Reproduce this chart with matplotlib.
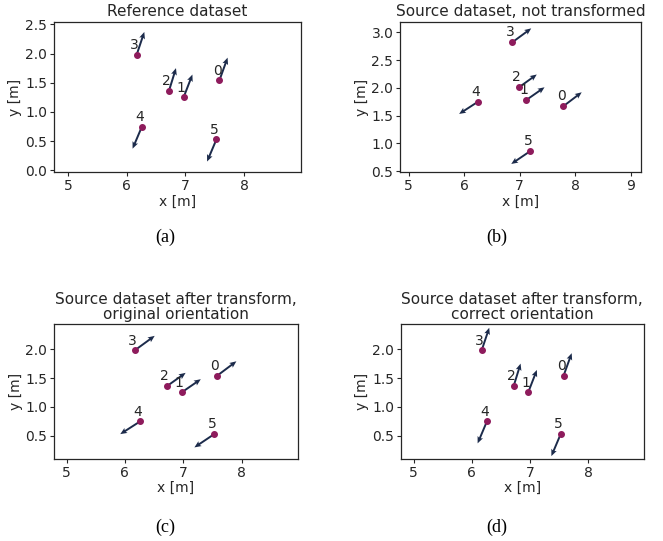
import matplotlib
matplotlib.use("Agg")
import matplotlib.pyplot as plt

# point positions (reference and transformed source share the same positions)
ref_x = [7.58, 6.97, 6.72, 6.17, 6.26, 7.53]
ref_y = [1.54, 1.25, 1.36, 1.98, 0.75, 0.53]

src_x = [7.79, 7.12, 6.99, 6.87, 6.25, 7.19]
src_y = [1.67, 1.78, 2.01, 2.82, 1.75, 0.86]

# orientation vectors
ref_u = [0.14, 0.15, 0.12, 0.13, -0.16, -0.16]
ref_v = [0.39, 0.39, 0.39, 0.39, -0.38, -0.38]

src_u = [0.33, 0.33, 0.32, 0.34, -0.34, -0.34]
src_v = [0.25, 0.23, 0.23, 0.25, -0.22, -0.23]

labels = ['0', '1', '2', '3', '4', '5']

titles = ['Reference dataset',
          'Source dataset, not transformed',
          'Source dataset after transform,\noriginal orientation',
          'Source dataset after transform,\ncorrect orientation']
captions = ['(a)', '(b)', '(c)', '(d)']

TXT = '#262626'
PT = '#8e1b5c'
ARR = '#1c2b4b'

plt.rcParams['font.family'] = 'DejaVu Sans'
plt.rcParams['text.color'] = TXT
plt.rcParams['axes.labelcolor'] = TXT
plt.rcParams['xtick.color'] = TXT
plt.rcParams['ytick.color'] = TXT


def panel(ax, xs, ys, us, vs, title, xlim, ylim, xticks, yticks):
	ax.quiver(xs, ys, us, vs, angles='xy', scale_units='xy', scale=1,
		color=ARR, width=0.008, headwidth=3, headlength=3.5, headaxislength=3,
		zorder=2)
	ax.plot(xs, ys, 'o', color=PT, markersize=4, zorder=3)
	for x, y, lab in zip(xs, ys, labels):
		ax.annotate(lab, (x, y), xytext=(1.5, 2), textcoords='offset points',
			ha='right', va='bottom', fontsize=10, color=TXT)
	ax.set_xlim(*xlim)
	ax.set_ylim(*ylim)
	ax.set_xticks(xticks)
	ax.set_yticks(yticks)
	ax.set_yticklabels(['%.1f' % t for t in yticks])
	ax.tick_params(labelsize=10, length=3, width=0.8, pad=2)
	ax.set_xlabel('x [m]', fontsize=10, labelpad=1)
	ax.set_ylabel('y [m]', fontsize=10, labelpad=2)
	ax.set_title(title, fontsize=11, pad=4, linespacing=0.95)
	for s in ax.spines.values():
		s.set_color(TXT)
		s.set_linewidth(0.9)


fig = plt.figure(figsize=(6.63, 5.41), dpi=100)

ax_a = fig.add_axes([0.0814, 0.682, 0.3725, 0.2773])
ax_b = fig.add_axes([0.6038, 0.6815, 0.3631, 0.2784])
ax_c = fig.add_axes([0.0819, 0.1516, 0.3671, 0.2490])
ax_d = fig.add_axes([0.6048, 0.1516, 0.3661, 0.2490])

panel(ax_a, ref_x, ref_y, ref_u, ref_v, titles[0], (4.76, 8.97), (-0.03, 2.54),
	[5, 6, 7, 8], [0.0, 0.5, 1.0, 1.5, 2.0, 2.5])
panel(ax_b, src_x, src_y, src_u, src_v, titles[1], (4.85, 9.19), (0.48, 3.19),
	[5, 6, 7, 8, 9], [0.5, 1.0, 1.5, 2.0, 2.5, 3.0])
panel(ax_c, ref_x, ref_y, src_u, src_v, titles[2], (4.79, 8.96), (0.10, 2.43),
	[5, 6, 7, 8], [0.5, 1.0, 1.5, 2.0])
panel(ax_d, ref_x, ref_y, ref_u, ref_v, titles[3], (4.78, 8.96), (0.10, 2.43),
	[5, 6, 7, 8], [0.5, 1.0, 1.5, 2.0])

cap_pos = [(165 / 663, 1 - 237 / 541), (497 / 663, 1 - 237 / 541),
	(165 / 663, 1 - 527 / 541), (497 / 663, 1 - 527 / 541)]
for (cx, cy), cap in zip(cap_pos, captions):
	fig.text(cx, cy, cap, ha='center', va='center', fontsize=13,
		family='Liberation Serif', color='black')

fig.savefig('out.png', dpi=100)
